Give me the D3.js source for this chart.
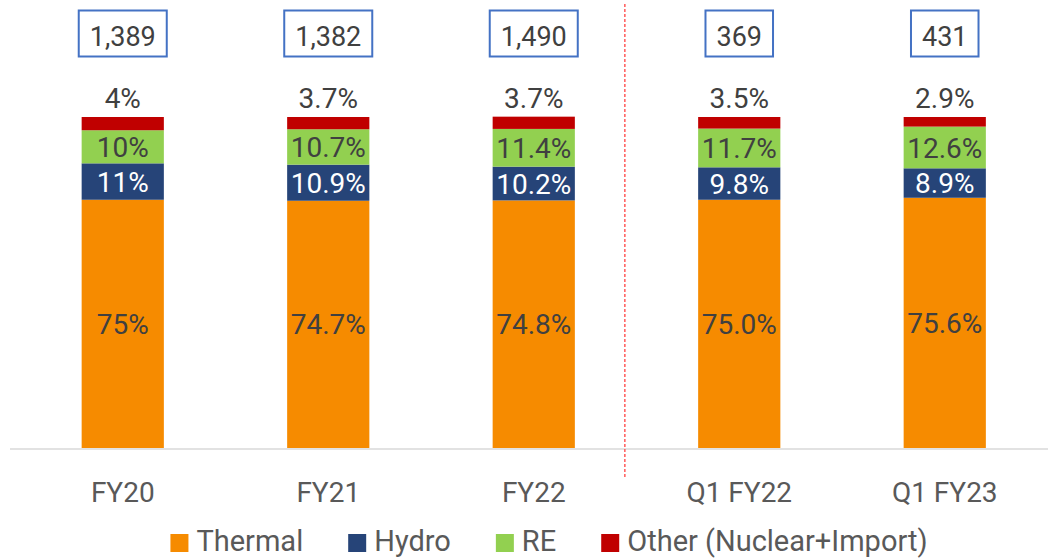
<!DOCTYPE html>
<html>
<head>
<meta charset="utf-8">
<script src="https://cdn.jsdelivr.net/npm/d3@7"></script>
<style>
  html, body { margin: 0; padding: 0; background: #fff; }
  svg { display: block; font-family: Roboto, "Open Sans", sans-serif; }
</style>
</head>
<body>
<svg id="chart" width="1048" height="559"></svg>
<script>
// Generation mix by period (share of total, %)
const categories = ["FY20", "FY21", "FY22", "Q1 FY22", "Q1 FY23"];
const totals = ["1,389", "1,382", "1,490", "369", "431"];
const thermal = [75, 74.7, 74.8, 75.0, 75.6];
const hydro = [11, 10.9, 10.2, 9.8, 8.9];
const re = [10, 10.7, 11.4, 11.7, 12.6];
const other = [4, 3.7, 3.7, 3.5, 2.9];
const thermalLabels = ["75%", "74.7%", "74.8%", "75.0%", "75.6%"];
const hydroLabels = ["11%", "10.9%", "10.2%", "9.8%", "8.9%"];
const reLabels = ["10%", "10.7%", "11.4%", "11.7%", "12.6%"];
const otherLabels = ["4%", "3.7%", "3.7%", "3.5%", "2.9%"];
const seriesNames = ["Thermal", "Hydro", "RE", "Other (Nuclear+Import)"];

const colors = {
  "Thermal": "#F68B00",
  "Hydro": "#264478",
  "RE": "#92D050",
  "Other (Nuclear+Import)": "#C00000"
};

const rows = categories.map((c, i) => ({
  category: c,
  "Thermal": thermal[i],
  "Hydro": hydro[i],
  "RE": re[i],
  "Other (Nuclear+Import)": other[i]
}));
const labelSets = {
  "Thermal": thermalLabels,
  "Hydro": hydroLabels,
  "RE": reLabels,
  "Other (Nuclear+Import)": otherLabels
};

const svg = d3.select("#chart");

const x = d3.scaleBand()
  .domain(categories)
  .range([20, 1047.5])
  .paddingInner(0.6)
  .paddingOuter(0.3);

const y = d3.scaleLinear().domain([0, 100]).range([448, 117]);

const stacked = d3.stack().keys(seriesNames)(rows);

// Baseline
svg.append("line")
  .attr("x1", 10).attr("x2", 1048)
  .attr("y1", 449).attr("y2", 449)
  .attr("stroke", "#D9D9D9").attr("stroke-width", 1.5);

// Stacked bars
const layers = svg.append("g").selectAll("g")
  .data(stacked)
  .join("g")
  .attr("fill", d => colors[d.key]);

layers.selectAll("rect")
  .data(d => d.map(p => ({ key: d.key, p })))
  .join("rect")
  .attr("x", d => x(d.p.data.category))
  .attr("width", x.bandwidth())
  .attr("y", d => y(d.p[1]))
  .attr("height", d => y(d.p[0]) - y(d.p[1]));

// Segment labels
stacked.forEach(layer => {
  const key = layer.key;
  const lbls = labelSets[key];
  svg.append("g").selectAll("text")
    .data(layer)
    .join("text")
    .attr("x", d => x(d.data.category) + x.bandwidth() / 2)
    .attr("y", (d, i) => key === "Other (Nuclear+Import)"
      ? y(d[1]) - 9
      : (y(d[0]) + y(d[1])) / 2)
    .attr("dy", key === "Other (Nuclear+Import)" ? 0 : "0.36em")
    .attr("text-anchor", "middle")
    .attr("font-size", 28)
    .attr("fill", key === "Hydro" ? "#FFFFFF" : "#404040")
    .text((d, i) => lbls[i]);
});

// Total boxes above each bar
const boxes = svg.append("g").selectAll("g")
  .data(categories)
  .join("g")
  .attr("transform", d => `translate(${x(d) + x.bandwidth() / 2},0)`);

boxes.append("text")
  .attr("y", 46)
  .attr("text-anchor", "middle")
  .attr("font-size", 27)
  .attr("fill", "#404040")
  .text((d, i) => totals[i]);

boxes.each(function () {
  const g = d3.select(this);
  const bb = g.select("text").node().getBBox();
  const w = bb.width + 22;
  g.insert("rect", "text")
    .attr("x", -w / 2).attr("y", 10.5)
    .attr("width", w).attr("height", 46)
    .attr("fill", "#fff")
    .attr("stroke", "#4472C4").attr("stroke-width", 2);
});

// Divider between annual and quarterly figures
const divX = x("FY22") + x.bandwidth() + 50;
svg.append("line")
  .attr("x1", divX).attr("x2", divX)
  .attr("y1", 4).attr("y2", 478)
  .attr("stroke", "#FF5A5A").attr("stroke-width", 1.5)
  .attr("stroke-dasharray", "3,2");

// Category axis
const axis = svg.append("g")
  .attr("transform", "translate(0,449)")
  .call(d3.axisBottom(x).tickSize(0).tickPadding(33));
axis.select(".domain").remove();
axis.selectAll("text")
  .attr("font-size", 28)
  .attr("font-family", "Roboto, sans-serif")
  .attr("fill", "#595959");

// Legend
const legend = svg.append("g").attr("transform", "translate(0,551)");
const items = legend.selectAll("g")
  .data(seriesNames)
  .join("g");
items.append("rect")
  .attr("y", -17).attr("width", 18).attr("height", 18)
  .attr("fill", d => colors[d]);
items.append("text")
  .attr("x", 26)
  .attr("font-size", 29)
  .attr("fill", "#595959")
  .text(d => d);

let cursor = 0;
const offsets = [];
items.each(function () {
  const w = 26 + d3.select(this).select("text").node().getComputedTextLength();
  offsets.push(cursor);
  cursor += w + 45;
});
const totalW = cursor - 45;
const startX = 549 - totalW / 2;
items.attr("transform", (d, i) => `translate(${startX + offsets[i]},0)`);
</script>
</body>
</html>
